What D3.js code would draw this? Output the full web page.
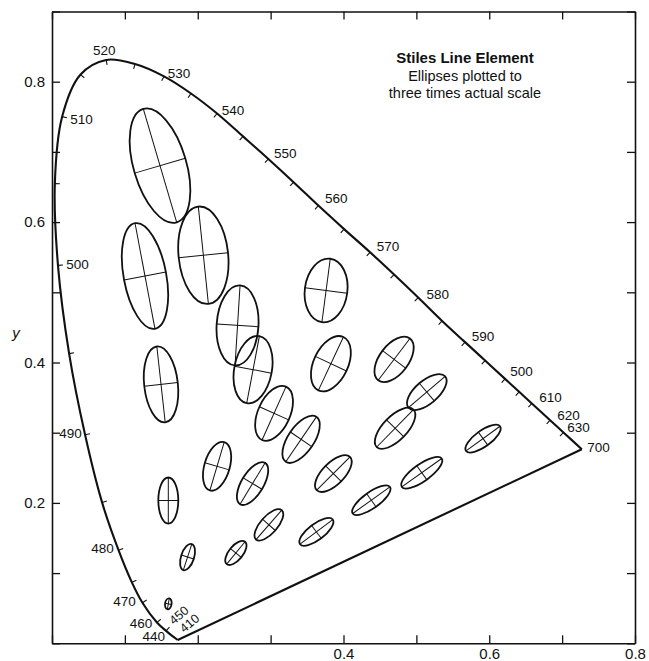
<!DOCTYPE html>
<html><head><meta charset="utf-8">
<script src="https://cdn.jsdelivr.net/npm/d3@7"></script>
<style>
body{margin:0;background:#fff;}
svg{display:block;}
text{font-family:"Liberation Sans",Arial,Helvetica,sans-serif;fill:#111;}
</style>
</head><body>
<svg id="chart" width="649" height="661"></svg>
<script>
// ---- data ----
const wavelengths = [410,440,450,460,470,475,480,485,490,495,500,505,510,515,520,525,530,535,540,545,550,555,560,565,570,575,580,585,590,595,600,605,610,620,630,700];
const locusX = [0.1725,0.1644,0.1566,0.1440,0.1241,0.1096,0.0913,0.0687,0.0454,0.0235,0.0082,0.0039,0.0139,0.0389,0.0743,0.1139,0.1537,0.1907,0.2265,0.2621,0.2969,0.3315,0.3655,0.4008,0.4365,0.4694,0.5025,0.5353,0.5668,0.5943,0.6217,0.6410,0.6584,0.6835,0.7018,0.7270];
const locusY = [0.0047,0.0109,0.0177,0.0297,0.0578,0.0868,0.1327,0.2007,0.2970,0.4127,0.5384,0.6548,0.7502,0.8100,0.8310,0.8251,0.8075,0.7832,0.7547,0.7221,0.6899,0.6569,0.6235,0.5900,0.5570,0.5253,0.4925,0.4592,0.4290,0.4028,0.3767,0.3582,0.3417,0.3178,0.3004,0.2764];
const tickWavelengths = [450,460,470,475,480,485,490,495,500,505,510,515,520,525,530,535,540,545,550,555,560,565,570,575,580,585,590,595,600,605,610,620,630];
const labelWavelengths = [440,460,470,480,490,500,510,520,530,540,550,560,570,580,590,600,610,620,630,700];
const labelTexts = ["440","460","470","480","490","500","510","520","530","540","550","560","570","580","590","500","610","620","630","700"];
const rotatedLabelWavelengths = [450,410];
const rotatedLabelTexts = ["450","410"];

const ellipseCX = [0.1482,0.2077,0.1276,0.2546,0.2759,0.1496,0.3761,0.3827,0.4694,0.5143,0.4708,0.3047,0.3418,0.2265,0.2752,0.3861,0.5915,0.5074,0.4382,0.3628,0.2976,0.2523,0.1860,0.1596,0.1596];
const ellipseCY = [0.6804,0.5528,0.5232,0.4528,0.3898,0.3688,0.5026,0.3983,0.4044,0.3579,0.3063,0.3276,0.2906,0.2522,0.2276,0.2418,0.2916,0.2430,0.2038,0.1587,0.1687,0.1287,0.1228,0.2034,0.0562];
const ellipseA  = [0.0811,0.0671,0.0737,0.0550,0.0468,0.0523,0.0439,0.0404,0.0360,0.0331,0.0360,0.0401,0.0373,0.0346,0.0331,0.0323,0.0288,0.0336,0.0314,0.0281,0.0268,0.0198,0.0188,0.0316,0.0075];
const ellipseB  = [0.0362,0.0340,0.0292,0.0287,0.0258,0.0231,0.0292,0.0236,0.0199,0.0158,0.0165,0.0220,0.0178,0.0174,0.0151,0.0151,0.0110,0.0117,0.0110,0.0110,0.0117,0.0096,0.0089,0.0137,0.0045];
const ellipseAngle = [106.4,95.9,100.7,86.4,79.3,96.3,82.5,64.9,52.8,40.5,45.6,65.8,55.7,73.5,58.8,45,36,35.4,35.5,37,48.7,50.6,72,90,80];

const xTickValues = [0,0.1,0.2,0.3,0.4,0.5,0.6,0.7,0.8];
const xTickLabels = ["","","","","0.4","","0.6","","0.8"];
const yTickValues = [0,0.1,0.2,0.3,0.4,0.5,0.6,0.7,0.8,0.9];
const yTickLabels = ["","","0.2","","0.4","","0.6","","0.8",""];

const titleLines = ["Stiles Line Element","Ellipses plotted to","three times actual scale"];
const yAxisTitle = "y";

// ---- layout (pixel nudges for wavelength labels) ----
const labelOffsets = {
  440:[-18,5],460:[-16,5.6],470:[-18,3.3],480:[-16,3],490:[-14.6,3.4],
  500:[19.5,4],510:[19.4,7.8],520:[-2,-4.5],530:[15,2],540:[16,1.5],
  550:[17,-0.6],560:[18,-2.3],570:[18,-1],580:[19.5,1],590:[18,-1],
  600:[16.4,-2.5],610:[18.7,-1.4],620:[18.4,-0.5],630:[15,-0.2],700:[16.7,2.4]
};
const rotatedOffsets = {450:[13,-15.5],410:[12,-16.5]};

// ---- scales ----
const svg = d3.select("#chart");
const x = d3.scaleLinear().domain([0,0.8]).range([52,635]);
const y = d3.scaleLinear().domain([0,0.9]).range([643.3,11.5]);
const kx = x(1)-x(0);

const fmt = (vals, labs) => d => { const i = vals.indexOf(d); return i>=0 ? labs[i] : ""; };

// axes / frame
const gB = svg.append("g").attr("transform",`translate(0,${y(0)})`)
  .call(d3.axisBottom(x).tickValues(xTickValues).tickSize(-8).tickSizeOuter(0).tickPadding(5).tickFormat(fmt(xTickValues,xTickLabels)));
const gT = svg.append("g").attr("transform",`translate(0,${y(0.9)})`)
  .call(d3.axisTop(x).tickValues(xTickValues).tickSize(-8).tickSizeOuter(0).tickFormat(""));
const gL = svg.append("g").attr("transform",`translate(${x(0)},0)`)
  .call(d3.axisLeft(y).tickValues(yTickValues).tickSize(-8).tickSizeOuter(0).tickPadding(7).tickFormat(fmt(yTickValues,yTickLabels)));
const gR = svg.append("g").attr("transform",`translate(${x(0.8)},0)`)
  .call(d3.axisRight(y).tickValues(yTickValues).tickSize(-8).tickSizeOuter(0).tickFormat(""));
[gB,gT,gL,gR].forEach(g=>{
  g.select(".domain").attr("stroke","#111").attr("stroke-width",1.6);
  g.selectAll(".tick line").attr("stroke","#111").attr("stroke-width",1.3);
  g.selectAll(".tick text").style("font-size","15px").attr("fill","#111")
   .style("font-family","'Liberation Sans',Arial,sans-serif");
});

// axis title
svg.append("text").attr("x",16).attr("y",338).attr("text-anchor","middle")
  .style("font-size","15px").style("font-style","italic").text(yAxisTitle);

// spectral locus
const pts = wavelengths.map((w,i)=>[x(locusX[i]), y(locusY[i])]);
const ptOf = w => pts[wavelengths.indexOf(w)];
svg.append("path").attr("d", d3.line().curve(d3.curveCatmullRom.alpha(0.5))(pts))
  .attr("fill","none").attr("stroke","#111").attr("stroke-width",2.1).attr("stroke-linejoin","round");
svg.append("path").attr("d", d3.line()([pts[pts.length-1], pts[0]]))
  .attr("fill","none").attr("stroke","#111").attr("stroke-width",2.1);

// wavelength ticks (inward)
tickWavelengths.forEach(w=>{
  const i = wavelengths.indexOf(w);
  const p0 = pts[Math.max(0,i-1)], p1 = pts[Math.min(pts.length-1,i+1)];
  let tx = p1[0]-p0[0], ty = p1[1]-p0[1];
  const L = Math.hypot(tx,ty); tx/=L; ty/=L;
  const nx = -ty, ny = tx;
  const p = pts[i];
  svg.append("line").attr("x1",p[0]).attr("y1",p[1])
    .attr("x2",p[0]+nx*5).attr("y2",p[1]+ny*5)
    .attr("stroke","#111").attr("stroke-width",1.1);
});

// wavelength labels
labelWavelengths.forEach((w,i)=>{
  const p = ptOf(w), o = labelOffsets[w];
  svg.append("text").attr("x",p[0]+o[0]).attr("y",p[1]+o[1])
    .attr("text-anchor","middle").style("font-size","13.5px").text(labelTexts[i]);
});
rotatedLabelWavelengths.forEach((w,i)=>{
  const p = ptOf(w), o = rotatedOffsets[w];
  svg.append("text").attr("transform",`translate(${p[0]+o[0]},${p[1]+o[1]}) rotate(-40)`)
    .attr("text-anchor","middle").attr("dominant-baseline","central")
    .style("font-size","12.5px").text(rotatedLabelTexts[i]);
});

// ellipses
const eg = svg.append("g");
ellipseCX.forEach((cx,i)=>{
  const rx = ellipseA[i]*kx, ry = ellipseB[i]*kx;
  const g = eg.append("g").attr("transform",`translate(${x(cx)},${y(ellipseCY[i])}) rotate(${-ellipseAngle[i]})`);
  g.append("ellipse").attr("rx",rx).attr("ry",ry).attr("fill","none").attr("stroke","#111").attr("stroke-width",1.8);
  g.append("line").attr("x1",-rx).attr("x2",rx).attr("y1",0).attr("y2",0).attr("stroke","#111").attr("stroke-width",1);
  g.append("line").attr("x1",0).attr("x2",0).attr("y1",-ry).attr("y2",ry).attr("stroke","#111").attr("stroke-width",1);
});

// title
const tx0 = 465;
svg.append("text").attr("x",tx0).attr("y",63).attr("text-anchor","middle")
  .style("font-size","15px").style("font-weight","bold").text(titleLines[0]);
svg.append("text").attr("x",tx0).attr("y",81).attr("text-anchor","middle")
  .style("font-size","14.5px").text(titleLines[1]);
svg.append("text").attr("x",tx0).attr("y",98).attr("text-anchor","middle")
  .style("font-size","14.5px").text(titleLines[2]);
</script>
</body></html>
